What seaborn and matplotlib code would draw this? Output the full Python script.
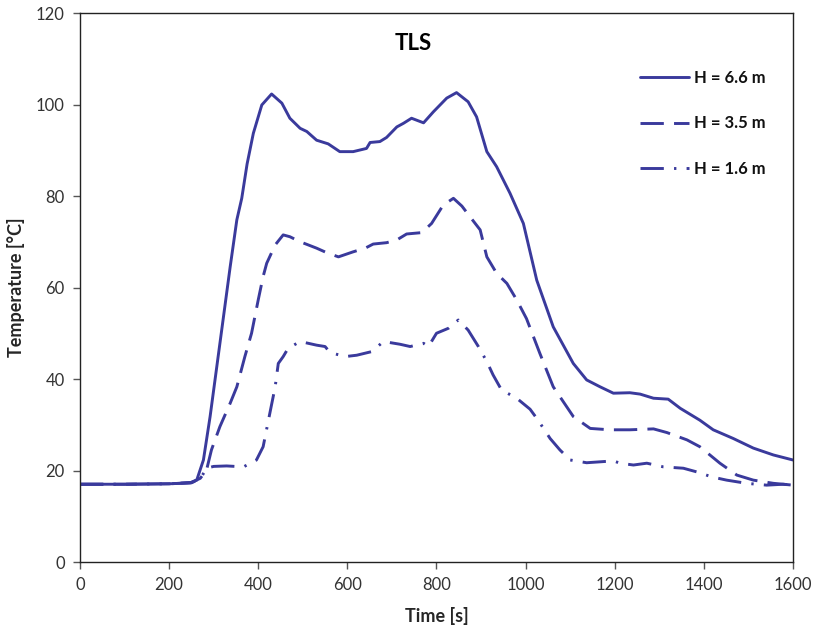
import matplotlib
matplotlib.use("Agg")
import matplotlib.pyplot as plt
import seaborn as sns
import pandas as pd

# Measured gas temperatures at three heights (TLS test)
time_66 = [0, 100, 200, 247, 262, 277, 292, 307, 322, 337, 352, 363, 375, 389, 408, 430,
           453, 471, 494, 509, 531, 557, 583, 613, 643, 651, 673, 688, 711, 726, 744, 771,
           793, 823, 845, 871, 890, 913, 935, 965, 995, 1025, 1062, 1107, 1137, 1167, 1197,
           1234, 1257, 1287, 1320, 1347, 1391, 1421, 1466, 1511, 1556, 1600]
temp_66 = [17.0, 17.0, 17.1, 17.3, 17.9, 22.3, 31.8, 42.7, 53.6, 64.5, 74.8, 79.5, 87.0, 93.7,
           99.9, 102.3, 100.3, 97.0, 94.8, 94.1, 92.2, 91.4, 89.7, 89.7, 90.4, 91.7, 91.9,
           92.8, 95.1, 95.9, 97.0, 96.0, 98.4, 101.4, 102.6, 100.6, 97.3, 89.7, 86.4, 80.6,
           74.0, 61.6, 51.4, 43.4, 39.8, 38.3, 36.9, 37.0, 36.7, 35.8, 35.6, 33.6, 31.0,
           28.9, 27.0, 24.9, 23.4, 22.3]

time_35 = [0, 100, 200, 250, 270, 284, 295, 314, 337, 352, 370, 385, 400, 411, 419, 438,
           456, 471, 494, 531, 554, 580, 613, 640, 658, 688, 711, 733, 767, 789, 815, 838,
           857, 875, 898, 913, 935, 958, 980, 1002, 1032, 1062, 1107, 1145, 1189, 1234, 1287,
           1317, 1362, 1391, 1436, 1474, 1511, 1556, 1600]
temp_35 = [17.0, 17.0, 17.1, 17.4, 18.3, 20.1, 24.5, 29.6, 34.7, 38.3, 44.9, 50.0, 57.3, 62.4,
           65.3, 69.3, 71.5, 71.1, 70.0, 68.6, 67.6, 66.7, 67.8, 68.6, 69.5, 69.8, 70.4,
           71.7, 72.0, 74.0, 78.0, 79.5, 77.8, 75.5, 72.6, 66.7, 63.1, 60.9, 57.3, 53.2,
           45.6, 38.3, 31.8, 29.2, 28.9, 28.9, 29.1, 28.3, 26.7, 25.2, 21.6, 19.0, 17.9,
           17.2, 16.8]

time_16 = [0, 100, 200, 250, 270, 284, 300, 329, 367, 396, 411, 426, 438, 445, 456, 467,
           494, 531, 550, 561, 595, 621, 655, 681, 718, 741, 771, 782, 800, 827, 849, 871,
           894, 913, 927, 946, 980, 1010, 1028, 1055, 1077, 1100, 1137, 1167, 1197, 1212,
           1242, 1272, 1309, 1354, 1384, 1418, 1451, 1496, 1541, 1578, 1600]
temp_16 = [17.0, 17.0, 17.1, 17.3, 18.2, 20.5, 20.9, 21.0, 20.8, 22.3, 25.2, 32.5, 38.3, 43.4,
           44.9, 46.7, 48.2, 47.4, 47.1, 45.8, 44.9, 45.2, 46.0, 48.2, 47.6, 47.1, 47.8,
           47.1, 50.0, 51.1, 52.9, 50.7, 47.1, 43.8, 40.9, 37.6, 35.8, 33.4, 31.0, 27.0,
           24.5, 22.3, 21.7, 21.9, 22.1, 21.6, 21.2, 21.6, 20.8, 20.5, 19.7, 18.6, 17.9,
           17.2, 16.8, 17.0, 16.8]

labels = ["H = 6.6 m", "H = 3.5 m", "H = 1.6 m"]
x_ticks = [0, 200, 400, 600, 800, 1000, 1200, 1400, 1600]
y_ticks = [0, 20, 40, 60, 80, 100, 120]

sns.set_theme(style="ticks")
plt.rcParams["font.family"] = ["Lato", "DejaVu Sans"]

color = "#3A3A9C"
lw = 2.1

fig = plt.figure(figsize=(8.17, 6.38), dpi=100)
ax = fig.add_axes([0.0979, 0.1191, 0.8727, 0.8605])

series = [(time_66, temp_66, None),
          (time_35, temp_35, (8, 3.5)),
          (time_16, temp_16, (8, 3.5, 0.8, 3.5))]

for (t, T, dash), lab in zip(series, labels):
    df = pd.DataFrame({"Time": t, "Temp": T})
    sns.lineplot(data=df, x="Time", y="Temp", ax=ax, color=color, lw=lw,
                 label=lab, estimator=None, sort=False)
    line = ax.get_lines()[-1]
    line.set_solid_joinstyle("round")
    if dash is not None:
        line.set_dashes(dash)

ax.set_xlim(0, 1600)
ax.set_ylim(0, 120)
ax.set_xticks(x_ticks)
ax.set_yticks(y_ticks)
ax.tick_params(axis="both", direction="out", length=5, width=1, color="#555555",
               labelsize=12, labelcolor="#333333", pad=6)
for sp in ax.spines.values():
    sp.set_visible(True)
    sp.set_color("#222222")
    sp.set_linewidth(1.0)

ax.set_xlabel("Time [s]", fontsize=13, fontweight="bold", labelpad=10)
ax.set_ylabel("Temperature [°C]", fontsize=13, fontweight="bold", labelpad=8)

ax.text(0.467, 0.944, "TLS", transform=ax.transAxes, ha="center", va="center",
        fontsize=16, fontweight="bold", color="black")

leg = ax.legend(loc="upper right", bbox_to_anchor=(0.982, 0.923), frameon=False,
                handlelength=2.9, handletextpad=0.3, labelspacing=1.75,
                prop={"weight": "bold", "size": 12})
for txt in leg.get_texts():
    txt.set_color("#111111")

fig.savefig("out.png", dpi=100)
